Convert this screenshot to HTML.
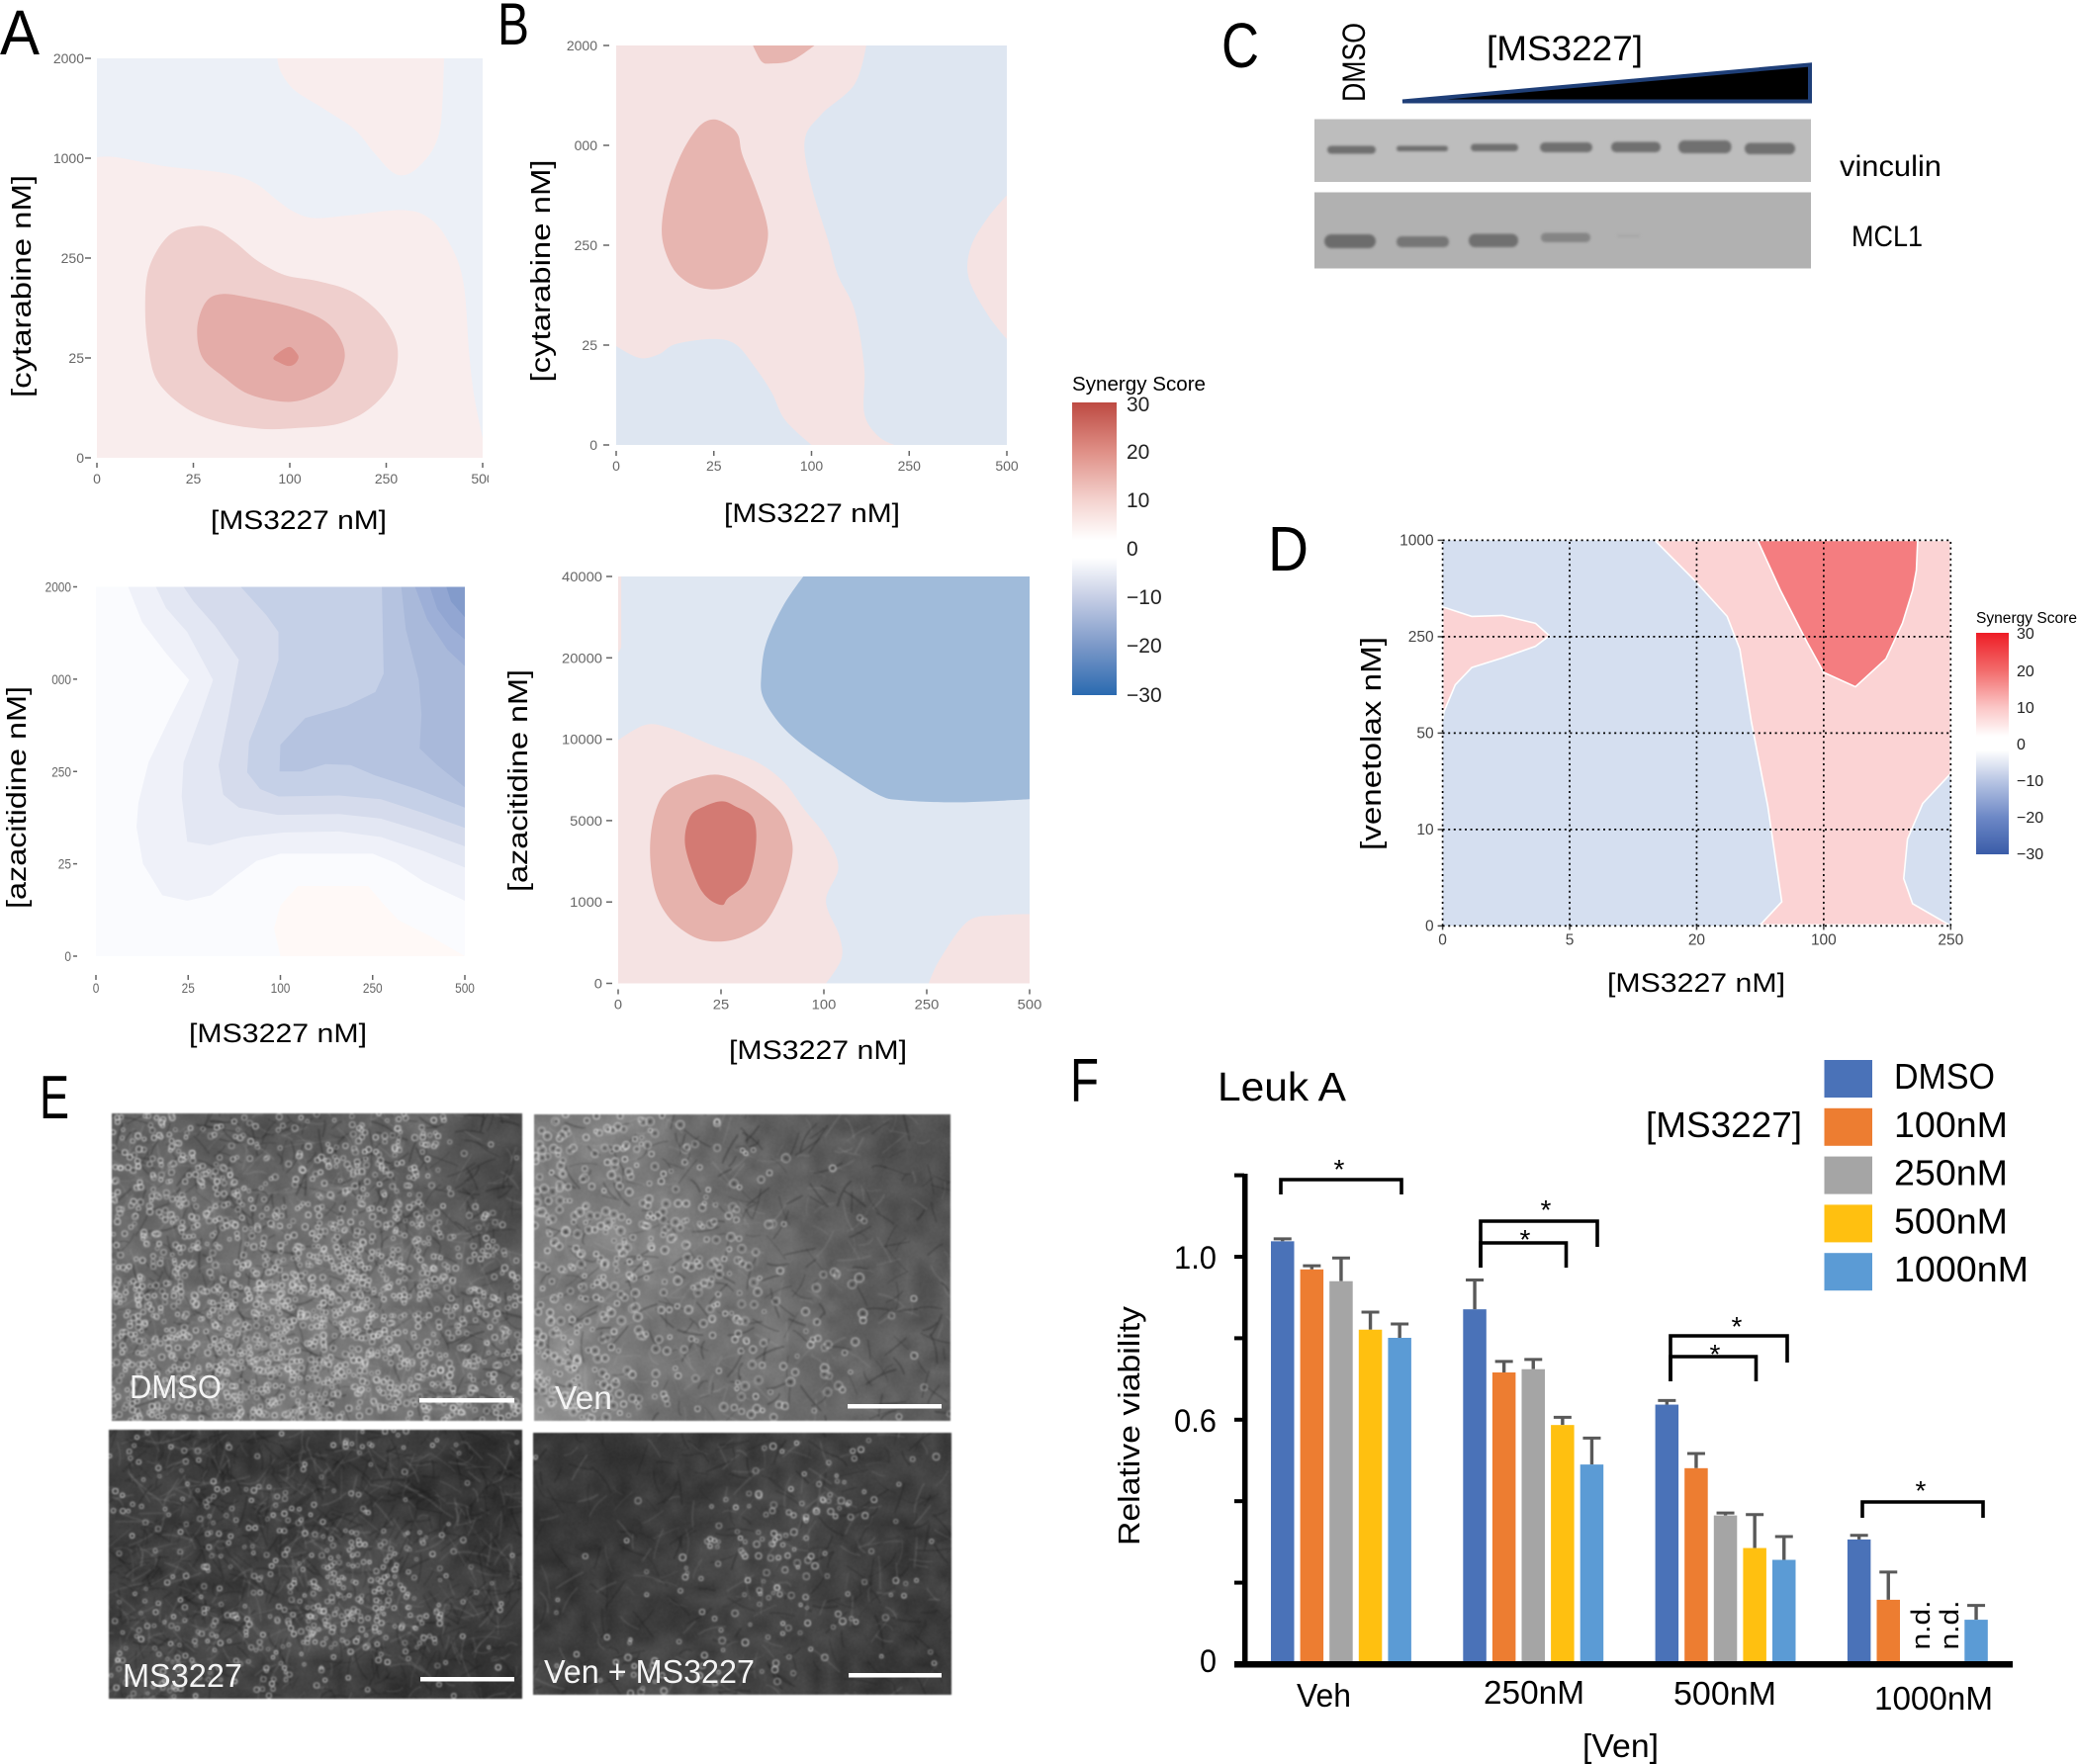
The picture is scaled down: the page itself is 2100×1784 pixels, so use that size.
<!DOCTYPE html>
<html lang="en">
<head>
<meta charset="utf-8">
<title>MS3227 synergy figure</title>
<style>
html,body{margin:0;padding:0;background:#fff;width:2100px;height:1784px;overflow:hidden}
#stage{position:relative;width:2100px;height:1784px;font-family:"Liberation Sans",sans-serif}
canvas{position:absolute;filter:blur(0.8px)}
svg{position:absolute;left:0;top:0;z-index:2}
svg text{font-family:"Liberation Sans",sans-serif}
</style>
</head>
<body>
<div id="stage">
<canvas id="photoDmso" width="415" height="311" style="left:113px;top:1126px"></canvas>
<canvas id="photoVen" width="421" height="310" style="left:540px;top:1127px"></canvas>
<canvas id="photoMs" width="418" height="272" style="left:110px;top:1446px"></canvas>
<canvas id="photoCombo" width="423" height="265" style="left:539px;top:1449px"></canvas>

<svg id="root" width="2100" height="1784" viewBox="0 0 2100 1784" xmlns="http://www.w3.org/2000/svg">
<defs>
<linearGradient id="cbar1" x1="0" y1="0" x2="0" y2="1">
<stop offset="0" stop-color="#bd4a42"/><stop offset="0.167" stop-color="#df8f86"/><stop offset="0.333" stop-color="#f4d2ce"/><stop offset="0.47" stop-color="#fff"/><stop offset="0.53" stop-color="#fff"/><stop offset="0.667" stop-color="#c6cee5"/><stop offset="0.833" stop-color="#7b98c8"/><stop offset="1" stop-color="#2a6ab0"/>
</linearGradient>
<linearGradient id="cbar2" x1="0" y1="0" x2="0" y2="1">
<stop offset="0" stop-color="#ee1c25"/><stop offset="0.167" stop-color="#f26a6a"/><stop offset="0.333" stop-color="#fbc4c4"/><stop offset="0.47" stop-color="#fff"/><stop offset="0.53" stop-color="#fff"/><stop offset="0.667" stop-color="#b9c6e4"/><stop offset="0.833" stop-color="#6d88c6"/><stop offset="1" stop-color="#3a5ca8"/>
</linearGradient>
<filter id="bandBlur" x="-20%" y="-80%" width="140%" height="260%"><feGaussianBlur stdDeviation="1.4"/></filter>
</defs>

<g id="charts"></g>

<rect x="494" y="470" width="24" height="30" fill="#fff"/>

<!-- panel letters -->
<text x="0" y="55" font-size="64" textLength="40" lengthAdjust="spacingAndGlyphs">A</text>
<text x="503" y="45" font-size="60" textLength="32" lengthAdjust="spacingAndGlyphs">B</text>
<text x="1235" y="68" font-size="64" textLength="38" lengthAdjust="spacingAndGlyphs">C</text>
<text x="1282" y="577" font-size="64" textLength="41" lengthAdjust="spacingAndGlyphs">D</text>
<text x="40" y="1131" font-size="62" textLength="30" lengthAdjust="spacingAndGlyphs">E</text>
<text x="1082" y="1114" font-size="62" textLength="29" lengthAdjust="spacingAndGlyphs">F</text>

<!-- axis titles -->
<text transform="translate(31 289.5) rotate(-90)" text-anchor="middle" font-size="28" textLength="225" lengthAdjust="spacingAndGlyphs">[cytarabine nM]</text>
<text transform="translate(556 274) rotate(-90)" text-anchor="middle" font-size="28" textLength="225" lengthAdjust="spacingAndGlyphs">[cytarabine nM]</text>
<text transform="translate(26 806.5) rotate(-90)" text-anchor="middle" font-size="28" textLength="225" lengthAdjust="spacingAndGlyphs">[azacitidine nM]</text>
<text transform="translate(533 789.5) rotate(-90)" text-anchor="middle" font-size="28" textLength="225" lengthAdjust="spacingAndGlyphs">[azacitidine nM]</text>
<text transform="translate(1396 752) rotate(-90)" text-anchor="middle" font-size="29" textLength="216" lengthAdjust="spacingAndGlyphs">[venetolax nM]</text>
<text x="213" y="535" font-size="27" textLength="178" lengthAdjust="spacingAndGlyphs">[MS3227 nM]</text>
<text x="732" y="528" font-size="27" textLength="178" lengthAdjust="spacingAndGlyphs">[MS3227 nM]</text>
<text x="191" y="1054" font-size="27" textLength="180" lengthAdjust="spacingAndGlyphs">[MS3227 nM]</text>
<text x="737" y="1071" font-size="27" textLength="180" lengthAdjust="spacingAndGlyphs">[MS3227 nM]</text>
<text x="1625" y="1003" font-size="27" textLength="180" lengthAdjust="spacingAndGlyphs">[MS3227 nM]</text>

<!-- colour bar 1 -->
<g>
<text x="1084" y="395" font-size="20" textLength="135" lengthAdjust="spacingAndGlyphs">Synergy Score</text>
<rect x="1084" y="407" width="45" height="296" fill="url(#cbar1)"/>
<g font-size="21" fill="#222">
<text x="1139" y="416">30</text>
<text x="1139" y="464">20</text>
<text x="1139" y="513">10</text>
<text x="1139" y="562">0</text>
<text x="1139" y="611">−10</text>
<text x="1139" y="660">−20</text>
<text x="1139" y="710">−30</text>
</g>
</g>

<!-- colour bar 2 -->
<g>
<text x="1998" y="630" font-size="15.5" textLength="102" lengthAdjust="spacingAndGlyphs">Synergy Score</text>
<rect x="1998" y="640" width="33" height="224" fill="url(#cbar2)"/>
<g font-size="16" fill="#222">
<text x="2039" y="646">30</text>
<text x="2039" y="684">20</text>
<text x="2039" y="721">10</text>
<text x="2039" y="758">0</text>
<text x="2039" y="795">−10</text>
<text x="2039" y="832">−20</text>
<text x="2039" y="869">−30</text>
</g>
</g>

<!-- panel C western blot -->
<g>
<text transform="translate(1380 63) rotate(-90)" text-anchor="middle" font-size="32" textLength="80" lengthAdjust="spacingAndGlyphs">DMSO</text>
<text x="1503" y="61" font-size="35" textLength="158" lengthAdjust="spacingAndGlyphs">[MS3227]</text>
<polygon points="1418,102.5 1830,102.5 1830,65.5" fill="#000" stroke="#1f3f78" stroke-width="4"/>
<rect x="1329" y="120.5" width="502" height="63.5" fill="#bdbdbd"/>
<rect x="1329" y="194.5" width="502" height="77" fill="#b1b1b1"/>
<g fill="#6f6f6f" filter="url(#bandBlur)">
<rect x="1342" y="147.5" width="49" height="8" rx="4"/>
<rect x="1412" y="147.5" width="52" height="5.5" rx="2.7"/>
<rect x="1487" y="145.5" width="48" height="7.5" rx="3.7"/>
<rect x="1557" y="144" width="53" height="10" rx="5"/>
<rect x="1629" y="143.5" width="50" height="10.5" rx="5"/>
<rect x="1697" y="142" width="53.5" height="13" rx="6"/>
<rect x="1764" y="144.5" width="51" height="11.5" rx="5.5"/>
</g>
<g filter="url(#bandBlur)">
<rect x="1339" y="237" width="52" height="14" rx="7" fill="#6c6c6c"/>
<rect x="1412" y="239" width="53" height="11" rx="5" fill="#767676"/>
<rect x="1485" y="236.5" width="50" height="13.5" rx="6.5" fill="#707070"/>
<rect x="1558" y="235.5" width="50" height="9.5" rx="4.5" fill="#858585"/>
<rect x="1635" y="237" width="23" height="3" rx="1.5" fill="#a8a8a8"/>
</g>
<text x="1860" y="178" font-size="30" textLength="103" lengthAdjust="spacingAndGlyphs">vinculin</text>
<text x="1872" y="249" font-size="30" textLength="72" lengthAdjust="spacingAndGlyphs">MCL1</text>
</g>

<!-- panel E overlays -->
<g fill="#f4f4f4">
<text x="131" y="1414" font-size="33" textLength="93" lengthAdjust="spacingAndGlyphs">DMSO</text>
<text x="561" y="1425" font-size="33" textLength="58" lengthAdjust="spacingAndGlyphs">Ven</text>
<text x="124" y="1706" font-size="33" textLength="121" lengthAdjust="spacingAndGlyphs">MS3227</text>
<text x="550" y="1702" font-size="33" textLength="213" lengthAdjust="spacingAndGlyphs">Ven + MS3227</text>
<rect x="424" y="1414" width="96" height="4.5" fill="#fff"/>
<rect x="857" y="1420" width="95" height="4.5" fill="#fff"/>
<rect x="425" y="1696" width="95" height="4.5" fill="#fff"/>
<rect x="858" y="1692" width="94" height="4.5" fill="#fff"/>
</g>

<!-- panel F static text -->
<text x="1231" y="1113" font-size="41" textLength="130" lengthAdjust="spacingAndGlyphs">Leuk A</text>
<text x="1664" y="1150" font-size="36" textLength="158" lengthAdjust="spacingAndGlyphs">[MS3227]</text>
<text transform="translate(1152 1442) rotate(-90)" text-anchor="middle" font-size="31" textLength="242" lengthAdjust="spacingAndGlyphs">Relative viability</text>
<text x="1311" y="1726" font-size="33" textLength="55" lengthAdjust="spacingAndGlyphs">Veh</text>
<text x="1500" y="1723" font-size="33" textLength="102" lengthAdjust="spacingAndGlyphs">250nM</text>
<text x="1692" y="1724" font-size="33" textLength="104" lengthAdjust="spacingAndGlyphs">500nM</text>
<text x="1895" y="1729" font-size="33" textLength="120" lengthAdjust="spacingAndGlyphs">1000nM</text>
<text x="1600" y="1777" font-size="33" textLength="77" lengthAdjust="spacingAndGlyphs">[Ven]</text>
<text transform="translate(1951 1643.5) rotate(-90)" text-anchor="middle" font-size="27" textLength="50" lengthAdjust="spacingAndGlyphs">n.d.</text>
<text transform="translate(1980 1643.5) rotate(-90)" text-anchor="middle" font-size="27" textLength="50" lengthAdjust="spacingAndGlyphs">n.d.</text>

<g fill="none" stroke="#000" stroke-width="3.6">
<path d="M1295 1208V1193H1417V1208"/>
<path d="M1497 1282V1235H1615V1261"/>
<path d="M1497 1282V1257H1583.5V1282"/>
<path d="M1689 1397V1351H1807V1378"/>
<path d="M1689 1397V1372H1775.5V1397"/>
<path d="M1883 1535V1519H2005V1535"/>
</g>
<g font-size="28" text-anchor="middle" fill="#000">
<text x="1354" y="1192">*</text>
<text x="1563" y="1233">*</text>
<text x="1542" y="1263">*</text>
<text x="1756" y="1351">*</text>
<text x="1734" y="1379">*</text>
<text x="1942" y="1517">*</text>
</g>
</svg>
</div>

<script>
/* ---------- Contour data: x and y are in dose-index units (0..4 along each axis) ---------- */
const doseTicksMs = ['0', '25', '100', '250', '500'];
const cytTicksA = ['0', '25', '250', '1000', '2000'];
const cytTicksB = ['0', '25', '250', '000', '2000'];
const azaTicksA = ['0', '25', '250', '000', '2000'];
const azaTicksB = ['0', '1000', '5000', '10000', '20000', '40000'];
const venTicksD = ['0', '10', '50', '250', '1000'];
const doseTicksD = ['0', '5', '20', '100', '250'];

const aBlue = [[0,4],[1.87,4],[1.91,3.86],[2.05,3.68],[2.36,3.49],[2.67,3.29],[2.87,3.06],[3.05,2.87],[3.18,2.83],[3.32,2.90],[3.49,3.10],[3.57,3.38],[3.60,4],[4,4],[4,0.20],[3.91,0.63],[3.86,1.05],[3.80,1.76],[3.66,2.14],[3.46,2.39],[3.18,2.48],[2.63,2.43],[2.26,2.40],[2.05,2.46],[1.88,2.57],[1.64,2.75],[1.33,2.85],[0.71,2.92],[0.20,3.01],[0,3.01]];
const aPink2 = [[1.02,2.32],[1.23,2.29],[1.43,2.16],[1.67,1.97],[1.95,1.83],[2.29,1.77],[2.63,1.67],[2.91,1.47],[3.08,1.23],[3.12,1.00],[3.05,.73],[2.81,.48],[2.50,.34],[2.09,.30],[1.71,.29],[1.26,.36],[.92,.50],[.64,.75],[.54,1.05],[.50,1.47],[.54,1.90],[.75,2.23]];
const aPink3 = [[1.30,1.64],[1.60,1.60],[2.02,1.51],[2.33,1.39],[2.50,1.23],[2.57,1.01],[2.46,.75],[2.22,.61],[1.95,.56],[1.57,.64],[1.30,.82],[1.09,1.01],[1.04,1.30],[1.13,1.56]];
const aPink4 = [[2.00,1.11],[2.07,1.05],[2.09,1.00],[2.05,.94],[1.98,.92],[1.88,.96],[1.83,1.00],[1.91,1.07]];

const bBlueRight = [[2.56,4],[2.44,3.61],[2.10,3.31],[1.93,3.05],[2.00,2.59],[2.17,2.05],[2.27,1.70],[2.44,1.35],[2.54,.78],[2.54,.32],[2.68,.09],[2.85,0],[4,0],[4,1.06],[3.80,1.31],[3.61,1.67],[3.63,1.98],[3.80,2.27],[4,2.50],[4,4]];
const bBlueLeft = [[0,.99],[.24,.87],[.44,.91],[.61,1.01],[.98,1.06],[1.22,1.01],[1.42,.78],[1.59,.53],[1.73,.25],[2.0,0],[0,0]];
const bPinkMain = [[1.00,3.26],[1.15,3.20],[1.25,3.10],[1.29,2.91],[1.42,2.59],[1.53,2.27],[1.55,2.05],[1.46,1.77],[1.29,1.63],[1.05,1.56],[.81,1.59],[.61,1.73],[.49,1.98],[.47,2.23],[.54,2.59],[.68,2.94],[.85,3.19]];
const bPinkTop = [[1.40,4],[1.49,3.84],[1.59,3.82],[1.80,3.85],[2.03,4]];

const a2L1 = [[.35,4],[.50,3.62],[.76,3.28],[1.01,2.99],[.80,2.58],[.57,2.10],[.46,1.66],[.44,1.40],[.51,1.00],[.72,.66],[.99,.60],[1.25,.66],[1.55,.89],[1.74,1.03],[2.00,1.11],[3.00,1.11],[3.25,1.01],[3.55,.81],[4,.60],[4,4]];
const a2L2 = [[.65,4],[.76,3.77],[.99,3.51],[1.27,2.99],[1.14,2.62],[.95,2.10],[.93,1.73],[.99,1.24],[1.23,1.20],[1.59,1.29],[2.04,1.34],[2.64,1.35],[3.09,1.29],[3.55,1.14],[4,.96],[4,4]];
const a2L3 = [[.95,4],[1.06,3.84],[1.29,3.58],[1.55,3.21],[1.44,2.62],[1.33,2.07],[1.38,1.75],[1.55,1.61],[1.97,1.53],[2.64,1.54],[3.09,1.49],[3.55,1.35],[4,1.19],[4,4]];
const a2L4 = [[1.57,4],[1.85,3.69],[1.98,3.51],[1.98,3.21],[1.85,2.80],[1.66,2.32],[1.64,1.99],[1.78,1.81],[1.98,1.73],[2.64,1.74],[3.09,1.70],[3.55,1.55],[4,1.39],[4,4]];
const a2L5 = [[3.10,4],[3.12,3.06],[3.03,2.86],[2.72,2.71],[2.27,2.58],[2.00,2.29],[1.99,2.0],[2.23,2.0],[2.49,2.08],[2.76,2.07],[3.02,1.96],[3.48,1.81],[4,1.61],[4,4]];
const a2L6 = [[3.31,4],[3.36,3.54],[3.50,2.99],[3.53,2.62],[3.51,2.25],[3.70,2.07],[4,1.83],[4,4]];
const a2L7 = [[3.46,4],[3.59,3.65],[3.81,3.32],[4,3.14],[4,4]];
const a2L8 = [[3.62,4],[3.70,3.76],[3.85,3.56],[4,3.43],[4,4]];
const a2L9 = [[3.80,4],[3.85,3.84],[4,3.67],[4,4]];
const a2Warm = [[2.19,.76],[2.95,.76],[3.13,.55],[3.28,.39],[3.62,.22],[4,0],[2.0,0],[1.93,.30],[2.0,.55]];

const b2Dark = [[1.80,4],[4,4],[4,1.81],[3.30,1.78],[2.76,1.80],[2.52,1.86],[2.08,2.14],[1.75,2.38],[1.55,2.58],[1.41,2.81],[1.39,3.01],[1.44,3.35],[1.61,3.72]];
const b2PinkLeft = [[0,2.39],[.26,2.54],[.50,2.51],[.94,2.33],[1.34,2.18],[1.61,1.98],[1.81,1.71],[2.02,1.44],[2.14,1.14],[2.02,.81],[2.15,.47],[2.17,.24],[2.02,0],[0,0]];
const b2PinkCorner = [[3.02,0],[3.13,.24],[3.40,.61],[3.70,.67],[4,.68],[4,0]];
const b2PinkSliver = [[0,4],[.03,4],[.03,3.3],[0,3.25]];
const b2Pink2 = [[.84,2.04],[1.07,2.03],[1.34,1.89],[1.58,1.68],[1.68,1.44],[1.69,1.24],[1.61,.94],[1.44,.61],[1.21,.46],[.97,.41],[.73,.46],[.50,.64],[.36,.91],[.31,1.31],[.36,1.68],[.50,1.91]];
const b2Red = [[1.01,1.79],[1.14,1.74],[1.31,1.63],[1.34,1.37],[1.26,1.01],[1.07,.84],[1.01,.77],[.87,.84],[.76,1.01],[.65,1.37],[.70,1.64],[.84,1.74]];

const dPinkMain = [[1.67,4],[1.98,3.59],[2.24,3.21],[2.34,2.87],[2.43,2.12],[2.56,1.24],[2.67,.25],[2.50,.01],[3.99,.01],[3.70,.23],[3.63,.49],[3.66,.90],[3.78,1.27],[4,1.58],[4,4]];
const dRed = [[2.48,4],[2.66,3.48],[2.87,2.94],[3.00,2.63],[3.25,2.48],[3.49,2.77],[3.62,3.14],[3.70,3.48],[3.73,3.69],[3.74,4]];
const dPinkLeft = [[0,3.31],[.23,3.21],[.47,3.22],[.73,3.14],[.84,3.01],[.73,2.90],[.47,2.78],[.23,2.68],[.10,2.50],[.01,2.22],[0,2.12]];

/* ---------- Bar chart data (panel F) ---------- */
const fGroups = ['veh', '250nm', '500nm', '1000nm'];
const fSeriesNames = ['dmso', '100nm', '250nm', '500nm', '1000nm'];
const fSeriesLabels = ['DMSO', '100nM', '250nM', '500nM', '1000nM'];
const fDmso = [1.038, .871, .637, .306];
const f100 = [.969, .716, .481, .158];
const f250 = [.940, .724, .365, null];
const f500 = [.821, .587, .285, null];
const f1000 = [.801, .490, .256, .109];
const fErrDmso = [.006, .072, .010, .010];
const fErr100 = [.009, .027, .036, .068];
const fErr250 = [.057, .024, .006, null];
const fErr500 = [.043, .019, .082, null];
const fErr1000 = [.034, .065, .057, .035];
const fYTicks = [0, .2, .4, .6, .8, 1, 1.2];
const fYLabels = ['0', '', '', '0.6', '', '1.0', ''];

const NS = 'http://www.w3.org/2000/svg';
const charts = document.getElementById('charts');

function add(parent, tag, name, attrs, txt) {
  const el = document.createElementNS(NS, tag);
  
  
  for (const k in attrs) el.setAttribute(k, attrs[k]);
  if (txt !== undefined) el.textContent = txt;
  parent.appendChild(el);
  return el;
}

function contourPath(pts, sx, sy, smooth) {
  const P = pts.map(p => [sx(p[0]), sy(p[1])]);
  const onEdge = pts.map(p => p[0] <= 0 || p[0] >= 4 || p[1] <= 0 || p[1] >= 4);
  const n = P.length;
  let d = 'M' + P[0][0].toFixed(1) + ' ' + P[0][1].toFixed(1);
  for (let i = 0; i < n; i++) {
    const p0 = P[(i - 1 + n) % n], p1 = P[i], p2 = P[(i + 1) % n], p3 = P[(i + 2) % n];
    if (!smooth) { d += 'L' + p2[0].toFixed(1) + ' ' + p2[1].toFixed(1); continue; }
    const e1 = onEdge[i], e2 = onEdge[(i + 1) % n];
    const c1x = e1 ? p1[0] : p1[0] + (p2[0] - p0[0]) / 6, c1y = e1 ? p1[1] : p1[1] + (p2[1] - p0[1]) / 6;
    const c2x = e2 ? p2[0] : p2[0] - (p3[0] - p1[0]) / 6, c2y = e2 ? p2[1] : p2[1] - (p3[1] - p1[1]) / 6;
    d += 'C' + c1x.toFixed(1) + ' ' + c1y.toFixed(1) + ' ' + c2x.toFixed(1) + ' ' + c2y.toFixed(1) + ' ' + p2[0].toFixed(1) + ' ' + p2[1].toFixed(1);
  }
  return d + 'Z';
}

function drawPanel(cfg) {
  const g = add(charts, 'g', cfg.name, {});
  const sx = v => cfg.x0 + (cfg.x1 - cfg.x0) * v / 4;
  const sy = v => cfg.y0 + (cfg.y1 - cfg.y0) * v / 4;
  const clipId = cfg.name + '-clip';
  const clip = add(g, 'clipPath', cfg.name + '-clip-region', { id: clipId });
  add(clip, 'rect', cfg.name + '-clip-rect', { x: cfg.x0, y: cfg.y1, width: cfg.x1 - cfg.x0, height: cfg.y0 - cfg.y1 });
  const plot = add(g, 'g', cfg.name + '-plot', { 'clip-path': 'url(#' + clipId + ')' });
  add(plot, 'rect', cfg.name + '-background', { x: cfg.x0, y: cfg.y1, width: cfg.x1 - cfg.x0, height: cfg.y0 - cfg.y1, fill: cfg.bg });
  cfg.layers.forEach((l, i) => {
    const a = { d: contourPath(l.pts, sx, sy, l.smooth !== false), fill: l.fill };
    if (cfg.stroke) { a.stroke = cfg.stroke; a['stroke-width'] = 1.6; }
    add(plot, 'path', cfg.name + '-contour-' + (i + 1), a);
  });
  const col = cfg.tickColor || '#666';
  const fs = cfg.fontSize || 14;
  cfg.xTicks.forEach((t, i) => {
    const x = sx(i / (cfg.xTicks.length - 1) * 4);
    if (!cfg.noTickX) add(g, 'line', cfg.name + '-x-tick-mark-' + t, { x1: x, x2: x, y1: cfg.y0 + cfg.xTickGap, y2: cfg.y0 + cfg.xTickGap + cfg.xTickLen, stroke: col, 'stroke-width': 1.5 });
    const a = { x: x, y: cfg.y0 + cfg.xLabelDy, 'text-anchor': 'middle', 'font-size': fs, fill: col };
    if (cfg.charW) { a.textLength = t.length * cfg.charW; a.lengthAdjust = 'spacingAndGlyphs'; }
    add(g, 'text', cfg.name + '-x-tick-label-' + t, a, t);
  });
  cfg.yTicks.forEach((t, i) => {
    const y = sy(i / (cfg.yTicks.length - 1) * 4);
    add(g, 'line', cfg.name + '-y-tick-mark-' + t, { x1: cfg.x0 - cfg.yTickGap - cfg.yTickLen, x2: cfg.x0 - cfg.yTickGap, y1: y, y2: y, stroke: col, 'stroke-width': 1.5 });
    const a = { x: cfg.x0 - cfg.yLabelDx, y: y + 5, 'text-anchor': 'end', 'font-size': fs, fill: col };
    if (cfg.charW) { a.textLength = t.length * cfg.charW; a.lengthAdjust = 'spacingAndGlyphs'; }
    add(g, 'text', cfg.name + '-y-tick-label-' + t, a, t);
  });
  return { g: g, sx: sx, sy: sy };
}

drawPanel({ name: 'panel-a', x0: 98, x1: 488, y0: 463, y1: 59, bg: '#f9eded',
  xTicks: doseTicksMs, yTicks: cytTicksA, xTickGap: 5, xTickLen: 5, xLabelDy: 26, yTickGap: 6, yTickLen: 6, yLabelDx: 13,
  layers: [{ pts: aBlue, fill: '#ecf0f7' }, { pts: aPink2, fill: '#efcfcd' }, { pts: aPink3, fill: '#e4aca8' }, { pts: aPink4, fill: '#dc8e88' }] });

drawPanel({ name: 'panel-b', x0: 623, x1: 1018, y0: 450, y1: 46, bg: '#f5e3e3',
  xTicks: doseTicksMs, yTicks: cytTicksB, xTickGap: 6, xTickLen: 5, xLabelDy: 26, yTickGap: 7, yTickLen: 6, yLabelDx: 19,
  layers: [{ pts: bBlueRight, fill: '#dee6f1' }, { pts: bBlueLeft, fill: '#dee6f1' }, { pts: bPinkMain, fill: '#e7b5b0' }, { pts: bPinkTop, fill: '#e7b5b0' }] });

drawPanel({ name: 'panel-a2', x0: 97, x1: 470, y0: 967, y1: 593.5, bg: '#fafbfe',
  xTicks: doseTicksMs, yTicks: azaTicksA, xTickGap: 19, xTickLen: 5, xLabelDy: 37, yTickGap: 19, yTickLen: 4, yLabelDx: 25, charW: 6.6,
  layers: [{ pts: a2L1, fill: '#eff1f9', smooth: false }, { pts: a2L2, fill: '#e3e7f3', smooth: false }, { pts: a2L3, fill: '#d5dbec', smooth: false }, { pts: a2L4, fill: '#c5d0e7', smooth: false }, { pts: a2L5, fill: '#b5c3e0', smooth: false }, { pts: a2L6, fill: '#a9b9da', smooth: false }, { pts: a2L7, fill: '#9dafd7', smooth: false }, { pts: a2L8, fill: '#92a6d2', smooth: false }, { pts: a2L9, fill: '#839bcb', smooth: false }, { pts: a2Warm, fill: '#fff9f7', smooth: false }] });

drawPanel({ name: 'panel-b2', x0: 625, x1: 1041, y0: 994.5, y1: 583, bg: '#dfe7f2',
  xTicks: doseTicksMs, yTicks: azaTicksB, xTickGap: 6, xTickLen: 5, xLabelDy: 26, yTickGap: 6, yTickLen: 6, yLabelDx: 16, charW: 8.2,
  layers: [{ pts: b2Dark, fill: '#a0bbda' }, { pts: b2PinkLeft, fill: '#f5e3e3' }, { pts: b2PinkCorner, fill: '#f5e3e3' }, { pts: b2PinkSliver, fill: '#f5e3e3', smooth: false }, { pts: b2Pink2, fill: '#e6b2ac' }, { pts: b2Red, fill: '#d37a73' }] });

const panelD = drawPanel({ name: 'panel-d', x0: 1458.6, x1: 1972.3, y0: 936.4, y1: 546.4, bg: '#d5dff0', stroke: '#fff',
  xTicks: doseTicksD, yTicks: venTicksD, xTickGap: 0, xTickLen: 4, xLabelDy: 19, yTickGap: 0, yTickLen: 5, yLabelDx: 9, tickColor: '#444', fontSize: 15.5,
  layers: [{ pts: dPinkMain, fill: '#fbd3d4', smooth: false }, { pts: dRed, fill: '#f47d80', smooth: false }, { pts: dPinkLeft, fill: '#fbd3d4', smooth: false }] });

doseTicksD.forEach((t, i) => {
  const x = panelD.sx(i);
  add(panelD.g, 'line', 'panel-d-grid-v-' + t, { x1: x, x2: x, y1: panelD.sy(0), y2: panelD.sy(4), stroke: '#000', 'stroke-width': 1.7, 'stroke-dasharray': '2 3.6' });
});
venTicksD.forEach((t, i) => {
  const y = panelD.sy(i);
  add(panelD.g, 'line', 'panel-d-grid-h-' + t, { x1: panelD.sx(0), x2: panelD.sx(4), y1: y, y2: y, stroke: '#000', 'stroke-width': 1.7, 'stroke-dasharray': '2 3.6' });
});

/* ---------- Panel F ---------- */
const fColors = ['#4a72b8', '#ed7d31', '#a5a5a5', '#ffc010', '#5b9bd5'];
const fValues = [fDmso, f100, f250, f500, f1000];
const fErrors = [fErrDmso, fErr100, fErr250, fErr500, fErr1000];
const fY = v => 1683 - 412 * v;
const fX = (g, s) => 1285 + 194.3 * g + 29.6 * s;
const fBarW = 23.5;
const fG = add(charts, 'g', 'viability-bar-chart', {});

fValues.forEach((vals, s) => {
  const sg = add(fG, 'g', 'series-' + fSeriesNames[s], {});
  vals.forEach((v, g) => {
    if (v === null) return;
    const x = fX(g, s);
    const tag = fGroups[g] + '-' + fSeriesNames[s];
    const err = fErrors[s][g];
    const cx = x + fBarW / 2;
    add(sg, 'line', 'error-bar-' + tag, { x1: cx, x2: cx, y1: fY(v), y2: fY(v + err), stroke: '#595959', 'stroke-width': 3.4 });
    add(sg, 'line', 'error-cap-' + tag, { x1: cx - 9, x2: cx + 9, y1: fY(v + err), y2: fY(v + err), stroke: '#595959', 'stroke-width': 3 });
    add(sg, 'rect', 'bar-' + tag, { x: x, y: fY(v), width: fBarW, height: 1683 - fY(v), fill: fColors[s] });
  });
});

add(fG, 'rect', 'y-axis-line', { x: 1256, y: 1187, width: 5.5, height: 499, fill: '#000' });
add(fG, 'rect', 'x-axis-line', { x: 1248, y: 1680, width: 787, height: 6.5, fill: '#000' });
fYTicks.forEach((t, i) => {
  add(fG, 'rect', 'y-tick-mark-' + t, { x: 1248, y: fY(t) - 2, width: 10, height: 4, fill: '#000' });
  if (fYLabels[i]) {
    const w = fYLabels[i].length > 1 ? 43 : 17;
    add(fG, 'text', 'y-tick-label-' + fYLabels[i], { x: 1230, y: fY(t) + (t === 0 ? 8 : 12), 'text-anchor': 'end', 'font-size': 32, textLength: w, lengthAdjust: 'spacingAndGlyphs' }, fYLabels[i]);
  }
});

const legendGap = 48.8;
fSeriesLabels.forEach((lab, s) => {
  add(fG, 'rect', 'legend-swatch-' + fSeriesNames[s], { x: 1844.5, y: 1072 + legendGap * s, width: 48.5, height: 38, fill: fColors[s] });
  const w = lab === 'DMSO' ? 102 : (lab === '1000nM' ? 136 : 115);
  add(fG, 'text', 'legend-label-' + fSeriesNames[s], { x: 1915, y: 1101 + legendGap * s, 'font-size': 36, textLength: w, lengthAdjust: 'spacingAndGlyphs' }, lab);
});

/* ---------- Panel E microscopy texture (decorative, canvas only) ---------- */
const gridDmso = [[100,92,85,98,104,76],[106,108,100,112,96,72],[108,102,116,112,106,92],[104,108,122,122,112,98],[112,118,126,122,112,102],[110,118,122,118,112,108]];
const gridVen = [[125,128,104,94,90,80],[124,124,112,102,90,80],[130,134,124,102,98,86],[122,122,118,112,98,90],[138,118,112,118,102,90],[142,116,108,112,102,94]];
const gridMs = [[62,58,58,62,62,50],[62,62,66,62,54,50],[58,66,62,70,72,54],[62,62,66,84,72,62],[66,72,78,86,72,58],[72,66,66,62,54,54]];
const gridCombo = [[60,56,60,64,64,66],[58,58,64,72,74,62],[56,60,70,78,62,60],[58,62,68,72,64,62],[60,64,64,72,68,60],[66,74,70,66,60,58]];

function rng(seed) {
  return function () {
    seed |= 0; seed = seed + 0x6D2B79F5 | 0;
    let t = Math.imul(seed ^ seed >>> 15, 1 | seed);
    t = t + Math.imul(t ^ t >>> 7, 61 | t) ^ t;
    return ((t ^ t >>> 14) >>> 0) / 4294967296;
  };
}

function renderPhoto(id, grid, seed, cells, rMin, rMax, fibres, clumpPow) {
  const c = document.getElementById(id);
  const ctx = c.getContext('2d');
  const w = c.width, h = c.height;
  const r = rng(seed);
  const rows = grid.length, cols = grid[0].length;
  const bright = (x, y) => {
    const gx = Math.min(cols - 1.001, Math.max(0, x / w * cols - .5));
    const gy = Math.min(rows - 1.001, Math.max(0, y / h * rows - .5));
    const ix = Math.floor(gx), iy = Math.floor(gy), fx = gx - ix, fy = gy - iy;
    return (grid[iy][ix] * (1 - fx) + grid[iy][ix + 1] * fx) * (1 - fy) + (grid[iy + 1][ix] * (1 - fx) + grid[iy + 1][ix + 1] * fx) * fy;
  };
  const cell = 13;
  const lw = Math.ceil(w / cell) + 2, lh = Math.ceil(h / cell) + 2;
  const lat = new Float32Array(lw * lh);
  for (let i = 0; i < lat.length; i++) lat[i] = r();
  const img = ctx.createImageData(w, h);
  for (let y = 0; y < h; y++) {
    for (let x = 0; x < w; x++) {
      const ax = x / cell, ay = y / cell, ix = Math.floor(ax), iy = Math.floor(ay), fx = ax - ix, fy = ay - iy;
      const n = (lat[iy * lw + ix] * (1 - fx) + lat[iy * lw + ix + 1] * fx) * (1 - fy) + (lat[(iy + 1) * lw + ix] * (1 - fx) + lat[(iy + 1) * lw + ix + 1] * fx) * fy;
      const v = bright(x, y) + (n - .5) * 22 + (r() - .5) * 10;
      const k = (y * w + x) * 4;
      img.data[k] = img.data[k + 1] = img.data[k + 2] = v;
      img.data[k + 3] = 255;
    }
  }
  ctx.putImageData(img, 0, 0);
  ctx.lineCap = 'round';
  for (let i = 0; i < fibres; i++) {
    const x = r() * w, y = r() * h, a = r() * 6.28, l = 10 + r() * 24;
    ctx.strokeStyle = r() < .55 ? 'rgba(22,22,22,.3)' : 'rgba(190,190,190,.16)';
    ctx.lineWidth = .8 + r() * 1.2;
    ctx.beginPath();
    ctx.moveTo(x, y);
    ctx.quadraticCurveTo(x + Math.cos(a) * l * .5 + (r() - .5) * 10, y + Math.sin(a) * l * .5 + (r() - .5) * 10, x + Math.cos(a) * l, y + Math.sin(a) * l);
    ctx.stroke();
  }
  let lo = 999, hi = 0;
  grid.forEach(row => row.forEach(v => { lo = Math.min(lo, v); hi = Math.max(hi, v); }));
  let drawn = 0, tries = 0;
  while (drawn < cells && tries < cells * 40) {
    tries++;
    const x = r() * w, y = r() * h;
    const p = .08 + .92 * (bright(x, y) - lo) / (hi - lo);
    if (r() > Math.pow(p, clumpPow)) continue;
    const rad = rMin + r() * (rMax - rMin);
    ctx.beginPath();
    ctx.arc(x, y, rad, 0, 6.283);
    ctx.fillStyle = 'rgba(190,190,190,.14)';
    ctx.fill();
    ctx.strokeStyle = 'rgba(225,225,225,' + (.35 + r() * .4) + ')';
    ctx.lineWidth = 1.1;
    ctx.stroke();
    ctx.beginPath();
    ctx.arc(x, y, rad * .42, 0, 6.283);
    ctx.fillStyle = 'rgba(25,25,25,.4)';
    ctx.fill();
    drawn++;
  }
}

renderPhoto('photoDmso', gridDmso, 11, 1800, 1.8, 3.2, 800, 1.6);
renderPhoto('photoVen', gridVen, 23, 520, 2, 4.6, 420, 2.4);
renderPhoto('photoMs', gridMs, 37, 520, 1.6, 2.8, 900, 2);
renderPhoto('photoCombo', gridCombo, 51, 190, 1.6, 3.4, 320, 2.6);
</script>
</body>
</html>
